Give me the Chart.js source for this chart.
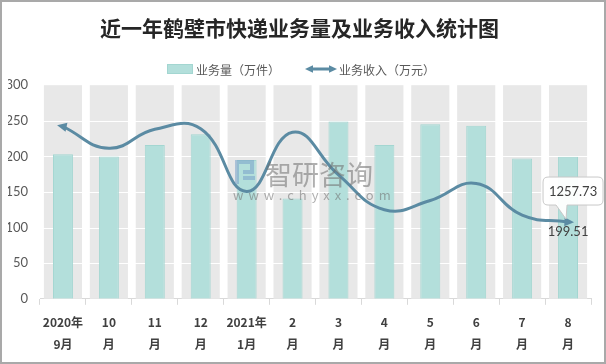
<!DOCTYPE html>
<html>
<head>
<meta charset="utf-8">
<script src="https://cdn.jsdelivr.net/npm/chart.js@4.4.1/dist/chart.umd.min.js"></script>
<style>
  body { margin: 0; background: #fff; }
  canvas { display: block; }
</style>
</head>
<body>
<canvas id="expressChart" width="606" height="364"></canvas>
<script>
// 近一年鹤壁市快递业务量及业务收入
const months = [
  ['2020年', '9月'], ['10', '月'], ['11', '月'], ['12', '月'],
  ['2021年', '1月'], ['2', '月'], ['3', '月'], ['4', '月'],
  ['5', '月'], ['6', '月'], ['7', '月'], ['8', '月'],
];
const volume = [203, 200, 216, 231, 195, 141, 249, 216, 245, 243, 197, 199.51]; // 万件
const revenue = [2823, 2468, 2777, 2788, 1760, 2730, 2030, 1460, 1610, 1890, 1370, 1257.73]; // 万元
const yTicks = [0, 50, 100, 150, 200, 250, 300];

const FONT = '"Noto Sans CJK SC", "Noto Sans", sans-serif';
const NUM_FONT = 'Lato, "Noto Sans CJK SC", sans-serif';
const LINE_COLOR = '#5b8ba3';
const BAR_COLOR = '#b3dfdb';

// gray column bands + white grid lines behind the bars
const bandPlugin = {
  id: 'bands',
  beforeDatasetsDraw(chart) {
    const { ctx, chartArea, scales } = chart;
    const x = scales.x;
    const y = scales.y;
    const step = chartArea.width / months.length;
    const w = step * 0.83;
    ctx.save();
    ctx.fillStyle = '#e8e8e8';
    months.forEach((m, i) => {
      const cx = x.getPixelForValue(i);
      ctx.fillRect(cx - w / 2, y.getPixelForValue(300), w, y.getPixelForValue(0) - y.getPixelForValue(300));
    });
    ctx.strokeStyle = '#ffffff';
    ctx.lineWidth = 1;
    yTicks.slice(1, -1).forEach((v) => {
      const py = Math.round(y.getPixelForValue(v)) + 0.5;
      ctx.beginPath();
      ctx.moveTo(chartArea.left, py);
      ctx.lineTo(chartArea.right, py);
      ctx.stroke();
    });
    ctx.restore();
  },
};

function arrow(ctx, x, y, angle, size) {
  ctx.save();
  ctx.translate(x, y);
  ctx.rotate(angle);
  ctx.beginPath();
  ctx.moveTo(size, 0);
  ctx.lineTo(-size * 0.6, -size * 0.75);
  ctx.lineTo(-size * 0.6, size * 0.75);
  ctx.closePath();
  ctx.fill();
  ctx.restore();
}

// legend, callout, labels, watermark, frame
const decorPlugin = {
  id: 'decor',
  afterDatasetsDraw(chart) {
    const { ctx } = chart;
    const lineMeta = chart.getDatasetMeta(1);
    const barMeta = chart.getDatasetMeta(0);
    const last = revenue.length - 1;
    const pt = lineMeta.data[last];
    const first = lineMeta.data[0];
    const second = lineMeta.data[1];

    ctx.save();
    ctx.fillStyle = LINE_COLOR;
    arrow(ctx, first.x, first.y, Math.atan2(first.y - second.y + 12, first.x - second.x), 6);
    arrow(ctx, pt.x, pt.y, 0.05, 6);

    // value of the bar under the last point
    ctx.fillStyle = '#404040';
    ctx.font = '13px ' + NUM_FONT;
    ctx.textAlign = 'center';
    ctx.textBaseline = 'middle';
    ctx.fillText(volume[last].toFixed(2), barMeta.data[last].x, pt.y + 10);

    // callout box with revenue value
    const bx = pt.x - 25, by = pt.y - 45, bw = 60, bh = 28, r = 5;
    ctx.beginPath();
    ctx.moveTo(bx + r, by);
    ctx.lineTo(bx + bw - r, by);
    ctx.quadraticCurveTo(bx + bw, by, bx + bw, by + r);
    ctx.lineTo(bx + bw, by + bh - r);
    ctx.quadraticCurveTo(bx + bw, by + bh, bx + bw - r, by + bh);
    ctx.lineTo(pt.x - 1, by + bh);
    ctx.lineTo(pt.x - 2, pt.y - 3);
    ctx.lineTo(pt.x - 12, by + bh);
    ctx.lineTo(bx + r, by + bh);
    ctx.quadraticCurveTo(bx, by + bh, bx, by + bh - r);
    ctx.lineTo(bx, by + r);
    ctx.quadraticCurveTo(bx, by, bx + r, by);
    ctx.closePath();
    ctx.fillStyle = 'rgba(255,255,255,0.95)';
    ctx.fill();
    ctx.strokeStyle = '#c8c8c8';
    ctx.lineWidth = 1;
    ctx.stroke();
    ctx.fillStyle = '#404040';
    ctx.fillText(revenue[last].toFixed(2), bx + bw / 2, by + bh / 2 + 1);
    ctx.restore();
  },
  afterDraw(chart) {
    const { ctx, width, height } = chart;
    ctx.save();

    // legend
    ctx.font = '12px ' + FONT;
    ctx.textBaseline = 'middle';
    ctx.textAlign = 'left';
    const t1 = '业务量（万件）';
    const t2 = '业务收入（万元）';
    const w1 = ctx.measureText(t1).width;
    const w2 = ctx.measureText(t2).width;
    const total = 26 + 3 + w1 + 27 + 28 + 4 + w2;
    let lx = (width - total) / 2 - 2;
    const ly = 69;
    ctx.fillStyle = BAR_COLOR;
    ctx.fillRect(lx, ly - 5, 26, 10);
    ctx.strokeStyle = '#a3d6d1';
    ctx.strokeRect(lx + 0.5, ly - 4.5, 25, 9);
    ctx.fillStyle = '#595959';
    ctx.fillText(t1, lx + 29, ly + 1);
    lx += 26 + 3 + w1 + 27;
    ctx.strokeStyle = LINE_COLOR;
    ctx.lineWidth = 3;
    ctx.beginPath();
    ctx.moveTo(lx + 4, ly);
    ctx.lineTo(lx + 24, ly);
    ctx.stroke();
    ctx.fillStyle = LINE_COLOR;
    arrow(ctx, lx + 3, ly, Math.PI, 5);
    arrow(ctx, lx + 25, ly, 0, 5);
    ctx.fillStyle = '#595959';
    ctx.fillText(t2, lx + 32, ly + 1);

    // watermark
    ctx.fillStyle = 'rgba(110,110,110,0.55)';
    ctx.font = '27px ' + FONT;
    ctx.textAlign = 'left';
    ctx.fillText('智研咨询', 265, 175);
    ctx.font = '13px ' + FONT;
    ctx.letterSpacing = '5px';
    ctx.fillText('www.chyxx.com', 233, 195);
    ctx.letterSpacing = '0px';
    ctx.strokeStyle = 'rgba(120,160,200,0.55)';
    ctx.lineWidth = 4;
    ctx.beginPath();
    ctx.moveTo(237, 184);
    ctx.lineTo(237, 162);
    ctx.lineTo(252, 162);
    ctx.lineTo(252, 172);
    ctx.lineTo(243, 172);
    ctx.moveTo(243, 178);
    ctx.lineTo(255, 178);
    ctx.stroke();

    // frame
    ctx.strokeStyle = '#a9a9a9';
    ctx.lineWidth = 2;
    ctx.strokeRect(1, 1, width - 2, height - 2);
    ctx.restore();
  },
};

new Chart(document.getElementById('expressChart'), {
  type: 'bar',
  data: {
    labels: months,
    datasets: [
      {
        label: '业务量（万件）',
        data: volume,
        backgroundColor: BAR_COLOR,
        borderColor: '#a3d6d1',
        borderWidth: 1,
        barPercentage: 0.435,
        categoryPercentage: 1,
        yAxisID: 'y',
        order: 1,
      },
      {
        type: 'line',
        label: '业务收入（万元）',
        data: revenue,
        borderColor: LINE_COLOR,
        borderWidth: 3,
        tension: 0.45,
        pointRadius: 0,
        fill: false,
        yAxisID: 'y1',
        order: 0,
      },
    ],
  },
  options: {
    responsive: false,
    animation: false,
    devicePixelRatio: 1,
    layout: { padding: { left: 8, right: 15, top: 0, bottom: 2 } },
    plugins: {
      legend: { display: false },
      tooltip: { enabled: false },
      title: {
        display: true,
        text: '近一年鹤壁市快递业务量及业务收入统计图',
        color: '#262626',
        font: { family: FONT, size: 21, weight: 'bold' },
        padding: { top: 15, bottom: 45 },
      },
    },
    scales: {
      x: {
        grid: { offset: true, drawOnChartArea: false, drawTicks: true, tickLength: 6, color: '#d9d9d9' },
        border: { color: '#d9d9d9' },
        ticks: {
          color: '#404040',
          padding: 7,
          maxRotation: 0,
          autoSkip: false,
          font: { family: FONT, size: 12, weight: 'bold', lineHeight: 1.8 },
        },
      },
      y: {
        min: 0,
        max: 300,
        afterFit(scale) { scale.width = 32; },
        afterBuildTicks(scale) { scale.ticks = yTicks.map((v) => ({ value: v })); },
        grid: { display: false, drawTicks: false, tickLength: 0 },
        border: { display: false },
        ticks: { color: '#595959', padding: 12, font: { family: NUM_FONT, size: 13 } },
      },
      y1: {
        display: false,
        min: 0,
        max: 3500,
        position: 'right',
      },
    },
  },
  plugins: [bandPlugin, decorPlugin],
});
</script>
</body>
</html>
